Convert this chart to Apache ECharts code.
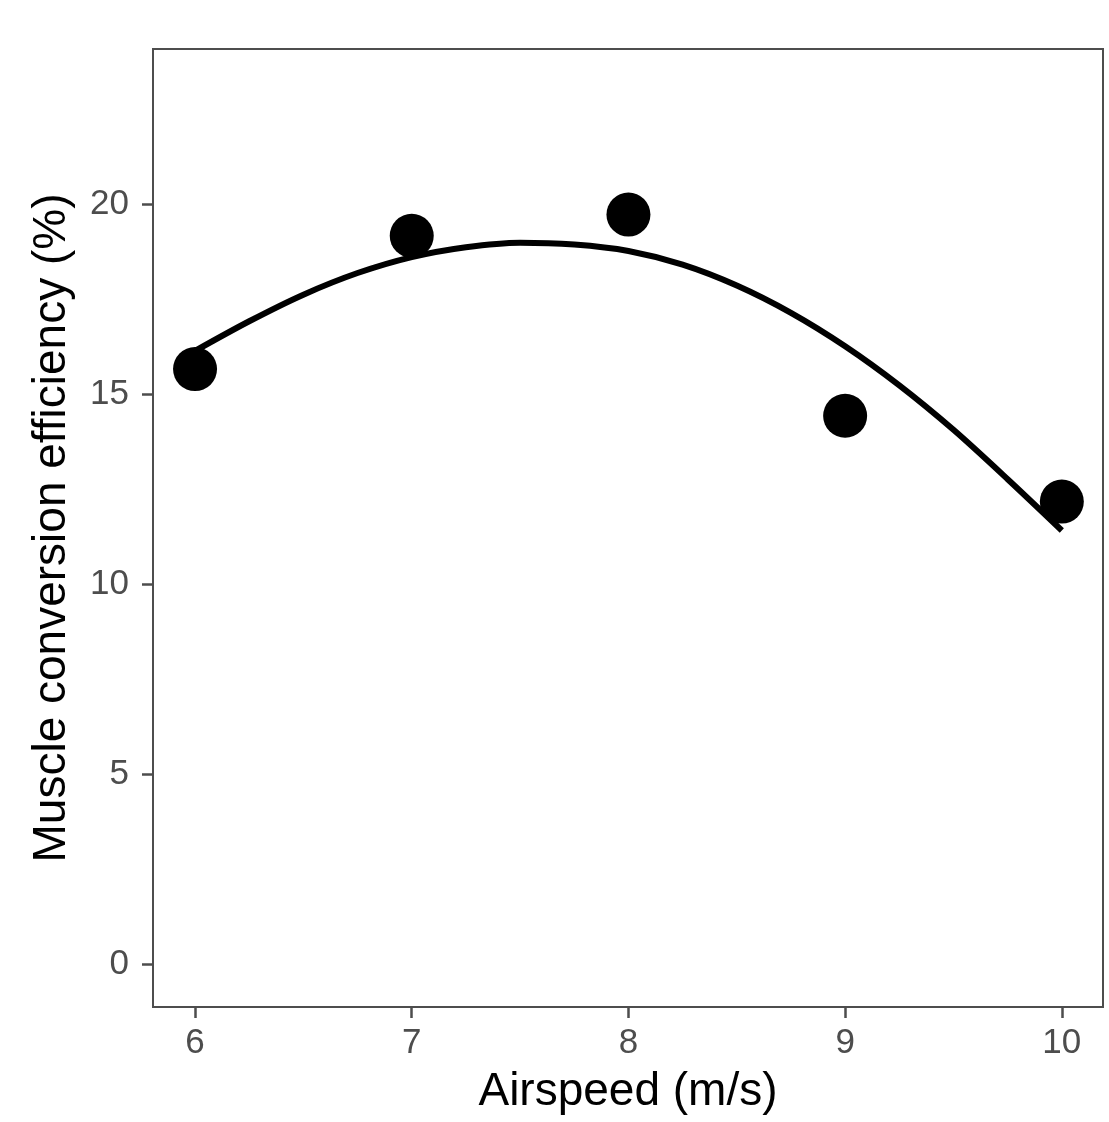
<!DOCTYPE html>
<html>
<head>
<meta charset="utf-8">
<script src="https://cdn.jsdelivr.net/npm/echarts@6/dist/echarts.min.js"></script>
<style>
  html, body { margin: 0; padding: 0; background: #fff; }
  #chart { width: 1109px; height: 1122px; }
</style>
</head>
<body>
<div id="chart"></div>
<script>
// observed points
var airspeed = [6, 7, 8, 9, 10];
var efficiency = [15.67, 19.18, 19.74, 14.44, 12.18];
// fitted curve, every 0.25 m/s
var curveX = [6, 6.25, 6.5, 6.75, 7, 7.25, 7.5, 7.75, 8, 8.25, 8.5, 8.75, 9, 9.25, 9.5, 9.75, 10];
var curveY = [16.15, 16.93, 17.63, 18.2, 18.62, 18.88, 19.0, 18.95, 18.78, 18.42, 17.87, 17.15, 16.27, 15.24, 14.07, 12.77, 11.42];
// tick labels
var xTicks = [6, 7, 8, 9, 10];
var yTicks = [0, 5, 10, 15, 20];

var chart = echarts.init(document.getElementById('chart'));

var pts = airspeed.map(function (x, i) { return [x, efficiency[i]]; });
var fit = curveX.map(function (x, i) { return [x, curveY[i]]; });

var option = {
    backgroundColor: '#fff',
    animation: false,
    textStyle: { fontFamily: 'Liberation Sans, Arial, sans-serif' },
    grid: {
        left: 153,
        right: 6,
        top: 49,
        bottom: 115,
        show: true,
        borderColor: '#4d4d4d',
        borderWidth: 2,
        backgroundColor: '#fff'
    },
    xAxis: {
        type: 'value',
        min: 5.806,
        max: 10.19,
        name: 'Airspeed (m/s)',
        nameLocation: 'middle',
        nameGap: 62,
        nameTextStyle: { fontSize: 46, color: '#000' },
        axisLine: { show: false, onZero: false },
        splitLine: { show: false },
        axisTick: {
            show: true,
            length: 11,
            customValues: xTicks,
            lineStyle: { color: '#4d4d4d', width: 2.5 }
        },
        axisLabel: {
            fontSize: 35,
            color: '#4d4d4d',
            margin: 19,
            customValues: xTicks
        }
    },
    yAxis: {
        type: 'value',
        min: -1.13,
        max: 24.1,
        name: 'Muscle conversion efficiency (%)',
        nameLocation: 'middle',
        nameGap: 78,
        nameTextStyle: { fontSize: 46, color: '#000' },
        axisLine: { show: false, onZero: false },
        splitLine: { show: false },
        axisTick: {
            show: true,
            length: 11,
            customValues: yTicks,
            lineStyle: { color: '#4d4d4d', width: 2.5 }
        },
        axisLabel: {
            fontSize: 35,
            color: '#4d4d4d',
            margin: 24,
            customValues: yTicks
        }
    },
    series: [
        {
            name: 'fit',
            type: 'line',
            data: fit,
            smooth: 0.3,
            showSymbol: false,
            lineStyle: { color: '#000', width: 6, cap: 'butt' },
            z: 2
        },
        {
            name: 'observed',
            type: 'scatter',
            data: pts,
            symbol: 'circle',
            symbolSize: 44,
            itemStyle: { color: '#000', opacity: 1 },
            z: 3
        }
    ]
};
chart.setOption(option);
</script>
</body>
</html>
